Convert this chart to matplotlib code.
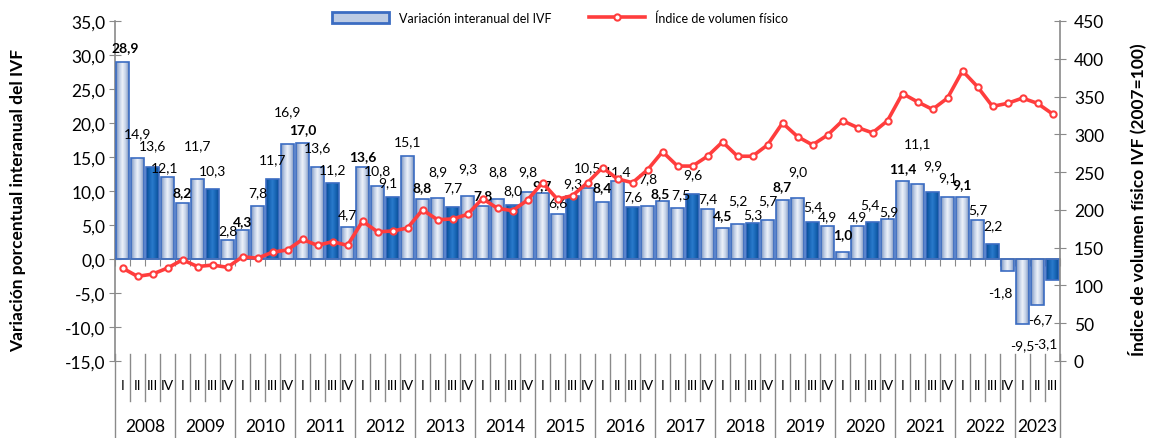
import numpy as np
import matplotlib.pyplot as plt
from matplotlib.colors import LinearSegmentedColormap
from matplotlib.lines import Line2D
from matplotlib.patches import Patch
from matplotlib.ticker import FuncFormatter, MultipleLocator

plt.rcParams['font.family'] = ['Lato', 'DejaVu Sans']

# Data: quarterly, 2008-I .. 2023-III
years = ['2008', '2009', '2010', '2011', '2012', '2013', '2014', '2015',
         '2016', '2017', '2018', '2019', '2020', '2021', '2022', '2023']
quarters = ['I', 'II', 'III', 'IV']

variacion = [28.9, 14.9, 13.6, 12.1, 8.2, 11.7, 10.3, 2.8,
             4.3, 7.8, 11.7, 16.9, 17.0, 13.6, 11.2, 4.7,
             13.6, 10.8, 9.1, 15.1, 8.8, 8.9, 7.7, 9.3,
             7.8, 8.8, 8.0, 9.8, 9.7, 6.6, 9.3, 10.5,
             8.4, 11.4, 7.6, 7.8, 8.5, 7.5, 9.6, 7.4,
             4.5, 5.2, 5.3, 5.7, 8.7, 9.0, 5.4, 4.9,
             1.0, 4.9, 5.4, 5.9, 11.4, 11.1, 9.9, 9.1,
             9.1, 5.7, 2.2, -1.8, -9.5, -6.7, -3.1]

ivf = [123, 112, 115, 123, 134, 125, 127, 124,
       138, 136, 144, 147, 161, 153, 158, 153,
       185, 171, 172, 176, 200, 187, 188, 194,
       215, 202, 199, 213, 236, 214, 219, 236,
       256, 241, 236, 253, 277, 258, 258, 271,
       290, 271, 271, 286, 315, 297, 286, 299,
       318, 309, 302, 318, 354, 343, 333, 348,
       384, 363, 337, 341, 348, 341, 327]

# label nudges in pixels (dy from bar end, dx sideways)
label_dy = [15, 25, 21, 10, 11, 34, 19, 10, 9, 14, 20, 33, 14, 19, 14, 13,
            10, 15, 15, 15, 12, 27, 19, 28, 11, 28, 14, 21, 8, 12, 13, 20,
            15, 10, 11, 28, 8, 14, 20, 11, 13, 23, 9, 20, 14, 27, 16, 10,
            18, 10, 18, 8, 13, 40, 27, 20, 13, 11, 19, -21, -22, -15, -63]
label_dx = {0: 3, 3: -3, 18: -5, 36: -2, 37: 3, 50: -3, 51: 1,
            59: -7, 61: 3, 62: -7}

n = len(variacion)
x = np.arange(n) + 0.5
q_labels = [quarters[i % 4] for i in range(n)]

fig = plt.figure(figsize=(11.5, 4.39), dpi=100)
ax = fig.add_axes([115 / 1150, 77 / 439, 945 / 1150, 340 / 439])
ax2 = ax.twinx()

gray = '#8a8a8a'

# bars with cylinder-like gradient
light_cmap = LinearSegmentedColormap.from_list(
    'light', ['#7890ba', '#bccbe4', '#eef2f9', '#c4d1e8', '#7b93bc'])
dark_cmap = LinearSegmentedColormap.from_list(
    'dark', ['#0a4a8e', '#1764b4', '#2a7bcc', '#1764b4', '#0b4d93'])
grad = np.linspace(0, 1, 64).reshape(1, -1)

bars = ax.bar(x, variacion, width=0.85, facecolor='none',
              edgecolor='#3b6cc2', linewidth=1.2, zorder=3)
for i, b in enumerate(bars):
    x0, w = b.get_x(), b.get_width()
    y0, h = b.get_y(), b.get_height()
    cmap = dark_cmap if i % 4 == 2 else light_cmap
    im = ax.imshow(grad, cmap=cmap, aspect='auto', zorder=2,
                   extent=[x0, x0 + w, min(y0, y0 + h), max(y0, y0 + h)])
    im.set_clip_path(b)

# data labels
for i, v in enumerate(variacion):
    bold = (i % 4 == 0) and i < 60
    ax.annotate(f"{v:.1f}".replace('.', ','), (x[i], v),
                xytext=(label_dx.get(i, 0), label_dy[i]),
                textcoords='offset pixels', ha='center', va='center',
                fontsize=10, fontweight='bold' if bold else 'normal',
                zorder=4)

ax.set_xlim(0, n)
ax.set_ylim(-15, 35)
ax.yaxis.set_major_locator(MultipleLocator(5))
ax.yaxis.set_major_formatter(FuncFormatter(lambda v, p: f"{v:.1f}".replace('.', ',')))
ax.tick_params(axis='y', direction='inout', length=8, color=gray,
               labelsize=12.5, pad=3)

# horizontal axis at zero with small ticks at category boundaries
ax.spines['bottom'].set_position(('data', 0))
ax.spines['bottom'].set_color(gray)
ax.spines['bottom'].set_linewidth(1.2)
ax.set_xticks(np.arange(0, n + 1))
ax.tick_params(axis='x', direction='out', length=5, color=gray,
               labelbottom=False)
ax.spines['top'].set_visible(False)
ax.spines['right'].set_visible(False)
ax.spines['left'].set_color(gray)
ax.spines['left'].set_linewidth(1.2)

# category labels at the bottom
trans = ax.get_xaxis_transform()
for i in range(n):
    ax.text(x[i], -0.071, q_labels[i], transform=trans, ha='center',
            va='center', fontsize=10)
for k in range(1, n):
    if k % 4 != 0:
        ax.plot([k, k], [0.02, -0.118], transform=trans, color=gray,
                lw=1.0, clip_on=False)
for k in list(range(0, n, 4)) + [n]:
    ax.plot([k, k], [0.02, -0.235], transform=trans, color=gray,
            lw=1.0, clip_on=False)
for j, yr in enumerate(years):
    start = 4 * j
    end = min(start + 4, n)
    ax.text((start + end) / 2, -0.19, yr, transform=trans, ha='center',
            va='center', fontsize=12.5)

# right axis: index line
ax2.plot(x, ivf, color='#ff3d3d', lw=2.6, marker='o', markersize=4.5,
         markerfacecolor='white', markeredgecolor='#ff3d3d',
         markeredgewidth=1.5, zorder=5)
ax2.set_ylim(0, 450)
ax2.yaxis.set_major_locator(MultipleLocator(50))
ax2.tick_params(axis='y', direction='inout', length=8, color=gray,
                labelsize=12.5, pad=6)
for s in ['top', 'left', 'bottom']:
    ax2.spines[s].set_visible(False)
ax2.spines['right'].set_color(gray)
ax2.spines['right'].set_linewidth(1.2)

fig.text(18 / 1150, 1 - 200 / 439, 'Variación porcentual interanual del IVF',
         rotation=90, ha='center', va='center', fontsize=12.5, fontweight='bold')
fig.text(1137 / 1150, 1 - 200 / 439, 'Índice de volumen físico IVF (2007=100)',
         rotation=90, ha='center', va='center', fontsize=12.5, fontweight='bold')

handles = [Patch(facecolor='#bccbe4', edgecolor='#3b6cc2', linewidth=2),
           Line2D([], [], color='#ff3d3d', lw=2.6, marker='o', markersize=4.5,
                  markerfacecolor='white', markeredgecolor='#ff3d3d',
                  markeredgewidth=1.5)]
fig.legend(handles, ['Variación interanual del IVF', 'Índice de volumen físico'],
           loc='center', bbox_to_anchor=(0.487, 0.958), ncol=2, frameon=False,
           fontsize=9, handlelength=4.5, handleheight=1.0, columnspacing=3)

fig.savefig('out.png', dpi=100)
